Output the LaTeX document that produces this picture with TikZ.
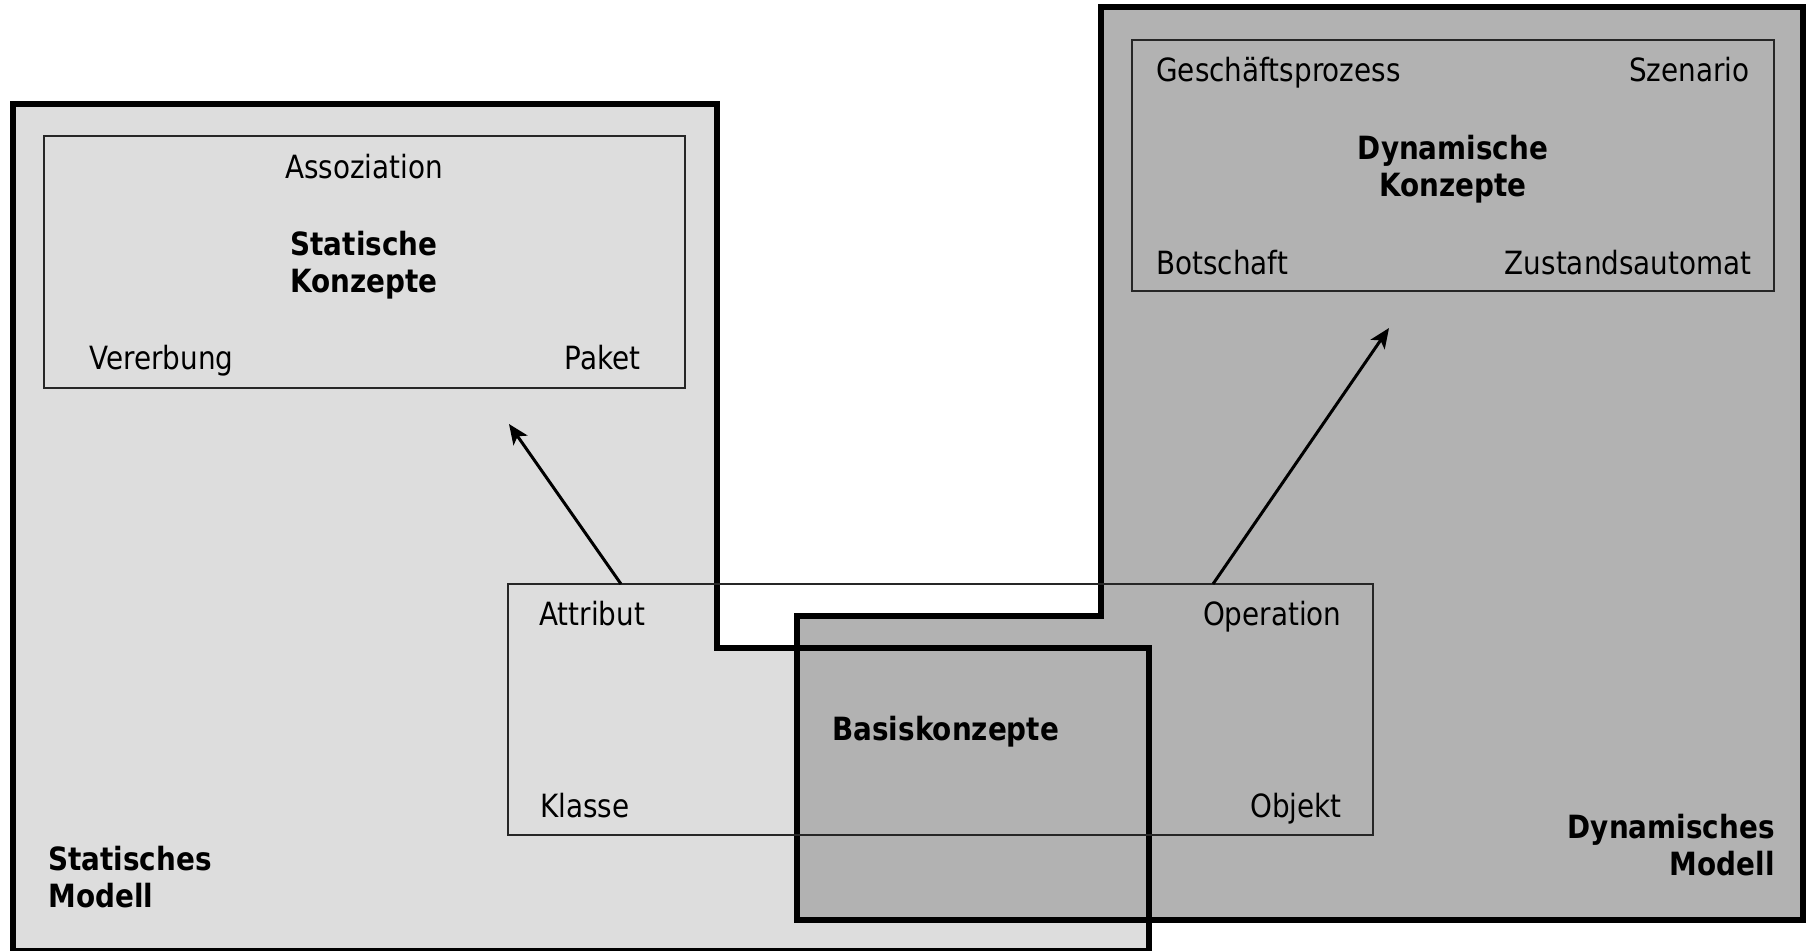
\documentclass[tikz,border=0pt]{standalone}
\usepackage{fontspec}
\setmainfont{DejaVu Sans}[FakeStretch=0.87]
\usetikzlibrary{fit}
\usetikzlibrary{arrows.meta}
\definecolor{statgray}{HTML}{DDDDDD}
\definecolor{dyngray}{HTML}{B2B2B2}
\tikzstyle{frame} = [draw, line width=3pt, line join=miter]
\tikzstyle{box} = [draw=black!85, line width=1pt, inner sep=0pt]
\tikzstyle{lbl} = [inner sep=0pt, text height=11.7pt, text depth=0pt,
    font=\fontsize{16}{18.5}\selectfont]
\tikzstyle{lblb} = [lbl, font=\fontsize{16}{18.5}\selectfont\bfseries]
\tikzstyle{title} = [inner sep=0pt, font=\fontsize{16}{18.5}\selectfont\bfseries]
\tikzstyle{line} = [draw, line width=1.5pt, -{Stealth[length=10pt,width=8.5pt,inset=2.5pt]}]

\begin{document}
\begin{tikzpicture}[x=0.5pt, y=-0.5pt]
  \useasboundingbox (0,0) rectangle (1806,950);

  % the two models
  \fill[statgray] (13,104) -- (717,104) -- (717,648) -- (1149,648)
    -- (1149,951) -- (13,951) -- cycle;
  \fill[dyngray] (1101,7) -- (1803,7) -- (1803,920) -- (797,920)
    -- (797,616) -- (1101,616) -- cycle;
  \draw[frame] (13,104) -- (717,104) -- (717,648) -- (1149,648)
    -- (1149,951) -- (13,951) -- cycle;
  \draw[frame] (1101,7) -- (1803,7) -- (1803,920) -- (797,920)
    -- (797,616) -- (1101,616) -- cycle;

  % concept boxes
  \node [box, fit={(44,136) (685,388)}] (statbox) {};
  \node [box, fit={(1132,40) (1774,291)}] (dynbox) {};
  \node [box, fit={(508,584) (1373,835)}] (basis) {};

  \node [lbl] (assoz) at (364,167) {Assoziation};
  \node [title, align=center] (statk) at (364,265) {Statische\\Konzepte};
  \node [lbl, anchor=west] (vererb) at (89,358) {Vererbung};
  \node [lbl, anchor=east] (paket) at (641,358) {Paket};

  \node [lbl, anchor=west] (gproz) at (1156,70) {Geschäftsprozess};
  \node [lbl, anchor=east] (szen) at (1750,70) {Szenario};
  \node [title, align=center] (dynk) at (1453,169) {Dynamische\\Konzepte};
  \node [lbl, anchor=west] (botsch) at (1156,263) {Botschaft};
  \node [lbl, anchor=east] (zust) at (1752,263) {Zustandsautomat};

  \node [lbl, anchor=west] (attr) at (539,614) {Attribut};
  \node [lbl, anchor=east] (oper) at (1342,614) {Operation};
  \node [lbl, anchor=west] (klasse) at (540,806) {Klasse};
  \node [lbl, anchor=east] (objekt) at (1342,806) {Objekt};
  \node [lblb, anchor=west] (basisk) at (832,729) {Basiskonzepte};

  \node [title, align=left, anchor=west] (statm) at (48,877.5) {Statisches\\Modell};
  \node [title, align=right, anchor=east] (dynm) at (1775,845.5) {Dynamisches\\Modell};

  % arrows
  \coordinate (attrTail) at (621,584);
  \coordinate (statTip) at (509,424);
  \coordinate (operTail) at (1213,584);
  \coordinate (dynTip) at (1389,328);
  \path [line] (attrTail) -- (statTip);
  \path [line] (operTail) -- (dynTip);

\end{tikzpicture}
\end{document}
